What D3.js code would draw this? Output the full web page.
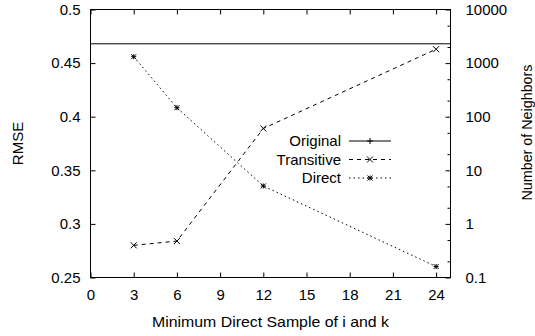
<!DOCTYPE html>
<html>
<head>
<meta charset="utf-8">
<script src="https://cdn.jsdelivr.net/npm/d3@7"></script>
<style>
  body { margin: 0; background: #fff; }
  svg { display: block; font-family: "Liberation Sans", Arial, sans-serif; }
  .axis text { font-size: 15px; fill: #000; }
  .axis path { display: none; }
  .axis line { stroke: #000; }
</style>
</head>
<body>
<svg id="chart" width="535" height="336"></svg>
<script>
// data
const samples = [3, 6, 12, 24]
const transitive = [0.280, 0.284, 0.389, 0.463]   // RMSE
const direct = [1315, 147, 5.1, 0.16]             // number of neighbors
const original = 0.468                              // RMSE baseline
const xTicks = [0, 3, 6, 9, 12, 15, 18, 21, 24]
const yTicks = [0.25, 0.3, 0.35, 0.4, 0.45, 0.5]
const y2Ticks = [0.1, 1, 10, 100, 1000, 10000]

const L = 90.5, R = 450.5, T = 9.5, B = 277.5

const svg = d3.select('#chart')

const x = d3.scaleLinear().domain([0, 25]).range([L, R])
const y = d3.scaleLinear().domain([0.25, 0.5]).range([B, T])
const y2 = d3.scaleLog().domain([0.1, 10000]).range([B, T])

// minor ticks on the log axis at 2 and 5 of every decade
const y2Minor = []
y2Ticks.slice(0, -1).forEach(d => { y2Minor.push(d * 2, d * 5) })

svg.append('g').attr('class', 'axis')
  .attr('transform', 'translate(0,' + B + ')')
  .call(d3.axisBottom(x).tickValues(xTicks).tickSize(-5).tickPadding(12))

svg.append('g').attr('class', 'axis')
  .attr('transform', 'translate(0,' + T + ')')
  .call(d3.axisTop(x).tickValues(xTicks).tickSize(-5).tickFormat(''))

svg.append('g').attr('class', 'axis')
  .attr('transform', 'translate(' + L + ',0)')
  .call(d3.axisLeft(y).tickValues(yTicks).tickSize(-5).tickPadding(10).tickFormat(d3.format('~g')))

svg.append('g').attr('class', 'axis')
  .attr('transform', 'translate(' + R + ',0)')
  .call(d3.axisRight(y2).tickValues(y2Ticks).tickSize(-5).tickPadding(15).tickFormat(d => String(d)))

svg.append('g').attr('class', 'axis')
  .attr('transform', 'translate(' + R + ',0)')
  .call(d3.axisRight(y2).tickValues(y2Minor).tickSize(-3).tickFormat(''))

// frame
svg.append('rect')
  .attr('x', L).attr('y', T)
  .attr('width', R - L).attr('height', B - T)
  .attr('fill', 'none').attr('stroke', '#000')

// axis titles
svg.append('text')
  .attr('x', 270.5).attr('y', 327)
  .attr('text-anchor', 'middle')
  .attr('textLength', 237).attr('lengthAdjust', 'spacingAndGlyphs')
  .style('font-size', '15px')
  .text('Minimum Direct Sample of i and k')

svg.append('text')
  .attr('transform', 'translate(22.5,143.5) rotate(-90)')
  .attr('text-anchor', 'middle')
  .style('font-size', '15px')
  .text('RMSE')

svg.append('text')
  .attr('transform', 'translate(532,132.5) rotate(-90)')
  .attr('text-anchor', 'middle')
  .attr('textLength', 136).attr('lengthAdjust', 'spacingAndGlyphs')
  .style('font-size', '15px')
  .text('Number of Neighbors')

// markers
const plus = (g, cx, cy, s) => {
  g.append('path').attr('d', `M${cx - s},${cy}H${cx + s}M${cx},${cy - s}V${cy + s}`)
    .attr('stroke', '#000').attr('fill', 'none')
}
const cross = (g, cx, cy, s) => {
  g.append('path').attr('d', `M${cx - s},${cy - s}L${cx + s},${cy + s}M${cx - s},${cy + s}L${cx + s},${cy - s}`)
    .attr('stroke', '#000').attr('fill', 'none')
}
const star = (g, cx, cy, s) => { plus(g, cx, cy, s); cross(g, cx, cy, s) }

const series = [
  { name: 'Original', dash: null, mark: plus },
  { name: 'Transitive', dash: '4,4', mark: cross },
  { name: 'Direct', dash: '1.5,3', mark: star }
]

const plot = svg.append('g')

// Original: flat line across the whole range
plot.append('line')
  .attr('x1', L).attr('x2', R)
  .attr('y1', y(original)).attr('y2', y(original))
  .attr('stroke', '#000')

const line = d3.line()
plot.append('path')
  .attr('d', line(samples.map((s, i) => [x(s), y(transitive[i])])))
  .attr('fill', 'none').attr('stroke', '#000').attr('stroke-dasharray', series[1].dash)
samples.forEach((s, i) => cross(plot, x(s), y(transitive[i]), 3))

plot.append('path')
  .attr('d', line(samples.map((s, i) => [x(s), y2(direct[i])])))
  .attr('fill', 'none').attr('stroke', '#000').attr('stroke-dasharray', series[2].dash)
samples.forEach((s, i) => star(plot, x(s), y2(direct[i]), 2.5))

// legend
const leg = svg.append('g')
series.forEach((d, i) => {
  const ly = 141 + i * 18.5
  leg.append('text')
    .attr('x', 341).attr('y', ly).attr('dy', '0.35em')
    .attr('text-anchor', 'end')
    .style('font-size', '15px')
    .text(d.name)
  leg.append('line')
    .attr('x1', 349).attr('x2', 391)
    .attr('y1', ly).attr('y2', ly)
    .attr('stroke', '#000')
    .attr('stroke-dasharray', d.dash)
  d.mark(leg, 370, ly, d.mark === star ? 2.5 : 3)
})
</script>
</body>
</html>
